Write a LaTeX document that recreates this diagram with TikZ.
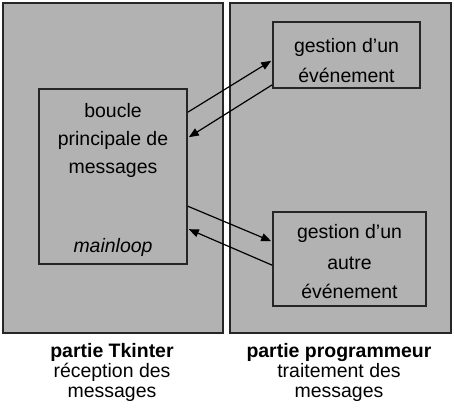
\documentclass[tikz,border=0pt]{standalone}
\usepackage{fontspec}
\setmainfont{Liberation Sans}
\usetikzlibrary{fit,calc,arrows.meta}
\definecolor{panelgray}{RGB}{178,178,178}
\tikzset{
  panel/.style={draw=black!85, line width=0.9pt, fill=panelgray, inner sep=0pt},
  box/.style={draw=black!85, line width=1.2pt, fill=panelgray, inner sep=0pt},
  txt/.style={anchor=base, inner sep=0pt, font=\fontsize{14.6}{17}\selectfont},
  conn/.style={line width=0.9pt, -{Triangle[length=7.5pt,width=6pt]}},
}
\begin{document}
\begin{tikzpicture}[x=0.75pt,y=-0.75pt]
\useasboundingbox[fill=white] (0,0) rectangle (454,411);
\node[panel, fit={(3,3) (223,333)}] (lpanel) {};
\node[panel, fit={(230,3) (451,333)}] (rpanel) {};
\node[box, fit={(39,89) (187,264)}] (main) {};
\node[box, fit={(273,22) (420,88)}] (ev1) {};
\node[box, fit={(273,212) (426,306)}] (ev2) {};
% texts
\node[txt] (m1) at (113,117) {boucle};
\node[txt] (m2) at (113,145) {principale de};
\node[txt] (m3) at (113,173) {messages};
\node[txt] (m4) at (113,252) {\itshape mainloop};
\node[txt] (e11) at (346.5,52) {gestion d’un};
\node[txt] (e12) at (346.5,82) {événement};
\node[txt] (e21) at (349.5,238) {gestion d’un};
\node[txt] (e22) at (349.5,269) {autre};
\node[txt] (e23) at (349.5,298) {événement};
\node[txt] (l1) at (112,357) {\bfseries partie Tkinter};
\node[txt] (l2) at (112,377) {réception des};
\node[txt] (l3) at (112,397) {messages};
\node[txt] (r1) at (339,357) {\bfseries partie programmeur};
\node[txt] (r2) at (339,377) {traitement des};
\node[txt] (r3) at (339,397) {messages};
% connectors
\draw[conn] ($(main.north east)+(0,24)$) -- ($(ev1.south west)+(-1,-28)$);
\draw[conn] ($(ev1.south west)+(0,-4)$) -- ($(main.north east)+(1,49)$);
\draw[conn] ($(main.north east)+(0,118)$) -- ($(ev2.north west)+(-1,30)$);
\draw[conn] ($(ev2.north west)+(0,54)$) -- ($(main.north east)+(1,141)$);
\end{tikzpicture}
\end{document}
